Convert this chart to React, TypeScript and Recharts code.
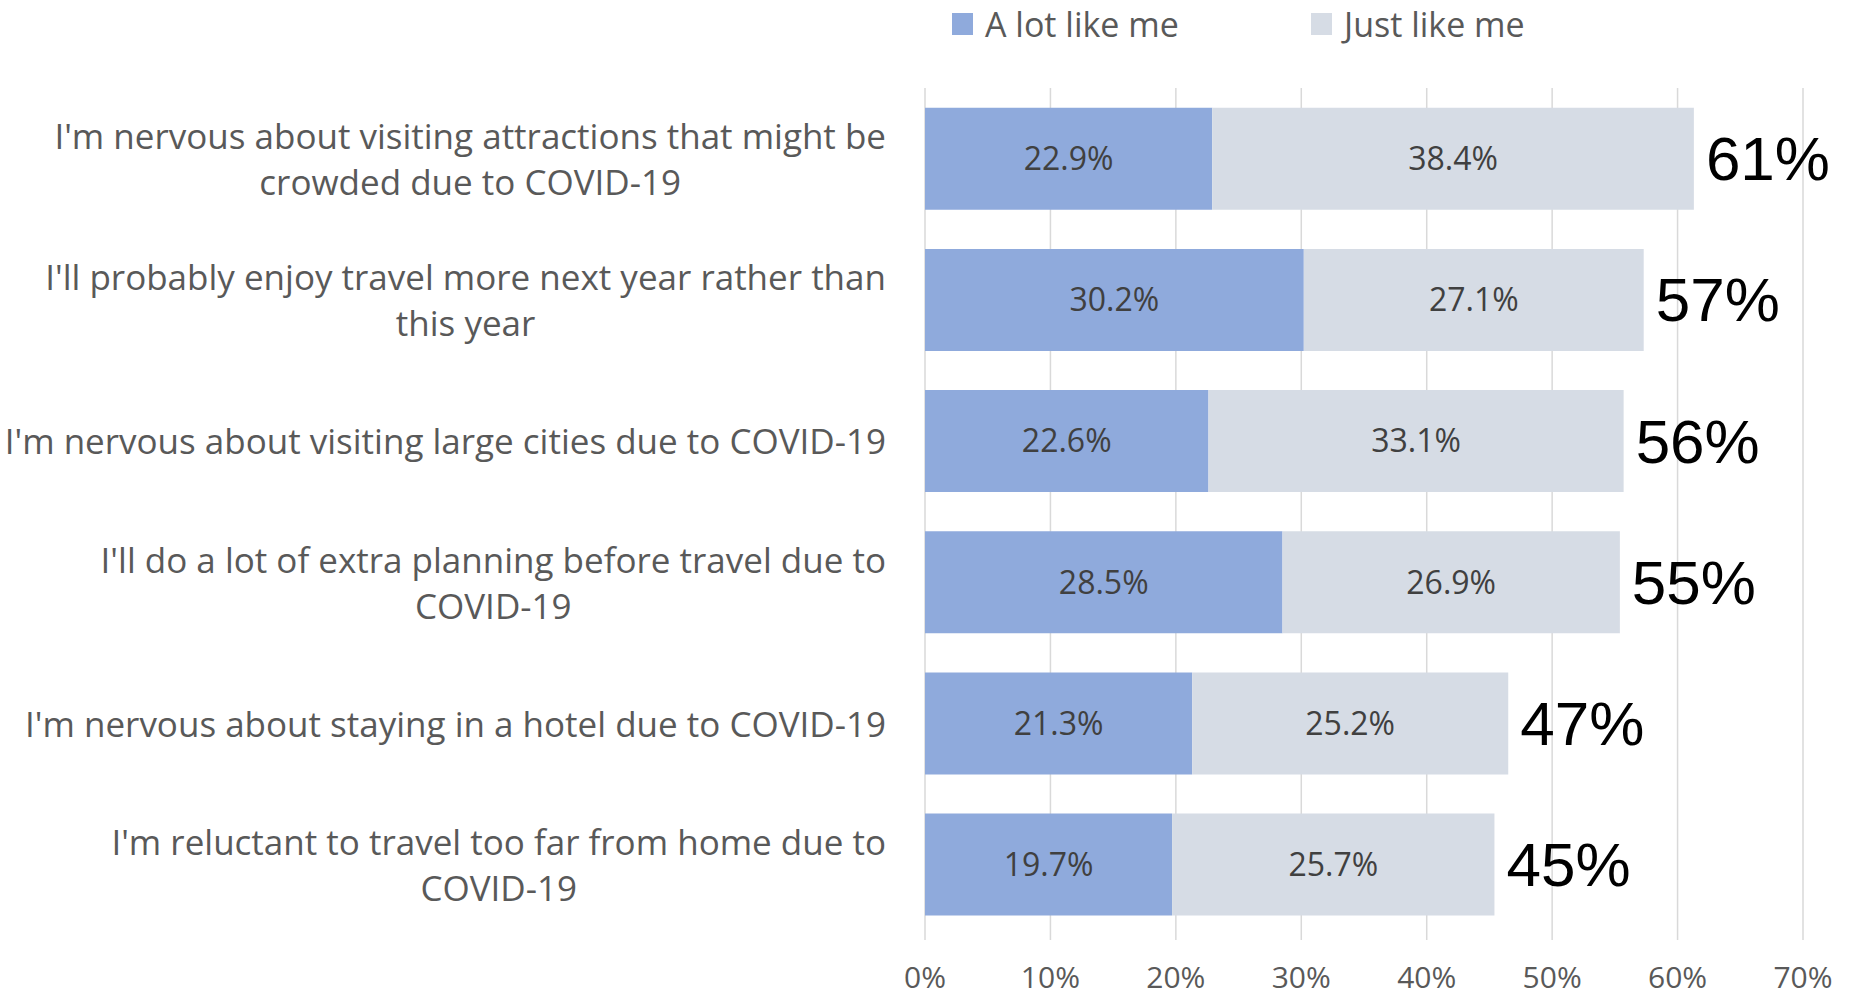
import React from 'react'
import { BarChart, Bar, XAxis, YAxis, CartesianGrid, Legend, LabelList } from 'recharts'

// categories, top to bottom
const statements = [
	"I'm nervous about visiting attractions that might be\ncrowded due to COVID-19",
	"I'll probably enjoy travel more next year rather than\nthis year",
	"I'm nervous about visiting large cities due to COVID-19",
	"I'll do a lot of extra planning before travel due to\nCOVID-19",
	"I'm nervous about staying in a hotel due to COVID-19",
	"I'm reluctant to travel too far from home due to\nCOVID-19",
]
const aLotLikeMe = [22.9, 30.2, 22.6, 28.5, 21.3, 19.7]
const justLikeMe = [38.4, 27.1, 33.1, 26.9, 25.2, 25.7]
const totalLabels = ['61%', '57%', '56%', '55%', '47%', '45%']
const xTicks = [0, 10, 20, 30, 40, 50, 60, 70]

const chartData = statements.map((s, i) => ({
	statement: s,
	aLot: aLotLikeMe[i],
	just: justLikeMe[i],
	total: totalLabels[i],
}))

const FONT = "'Open Sans', sans-serif"
const GREY_TEXT = '#595959'

let ctx: CanvasRenderingContext2D | null = null
const measure = (txt: string, size: number) => {
	if (!ctx) ctx = document.createElement('canvas').getContext('2d')
	if (!ctx) return txt.length * size * 0.5
	ctx.font = `${size}px 'Open Sans'`
	return ctx.measureText(txt).width
}

// multi-line category label, block right-aligned, lines centered on widest line
const StatementTick = (props: any) => {
	const { x, y, payload } = props
	const size = 35
	const lines: string[] = String(payload.value).split('\n')
	const widest = Math.max(...lines.map((l) => measure(l, size)))
	const cx = x - widest / 2
	const lh = 46
	const y0 = y - ((lines.length - 1) * lh) / 2
	return (
		<text fontFamily={FONT} fontSize={size} fill={GREY_TEXT} textAnchor='middle'>
			{lines.map((l, i) => (
				<tspan key={i} x={cx} y={y0 + i * lh} dominantBaseline='central'>
					{l}
				</tspan>
			))}
		</text>
	)
}

const TotalLabel = (props: any) => {
	const { x, y, width, height, index } = props
	return (
		<text
			x={x + width + 12}
			y={y + height / 2}
			fontFamily="'Liberation Sans', Arial, sans-serif"
			fontSize={62}
			fill='#000000'
			dominantBaseline='central'
		>
			{totalLabels[index]}
		</text>
	)
}

const renderLegend = (props: any) => {
	const { payload } = props
	return (
		<div style={{ display: 'flex', alignItems: 'center', height: 48 }}>
			{payload.map((entry: any, i: number) => (
				<div key={i} style={{ display: 'flex', alignItems: 'center', width: 359 }}>
					<span style={{ width: 21, height: 22, background: entry.color, marginRight: 12 }} />
					<span style={{ fontFamily: FONT, fontSize: 34, color: GREY_TEXT }}>{entry.value}</span>
				</div>
			))}
		</div>
	)
}

export default function App() {
	return (
		<div style={{ position: 'absolute', left: 0, top: 0, background: '#ffffff' }}>
			<BarChart
				width={1852}
				height={1000}
				data={chartData}
				layout='vertical'
				margin={{ top: 88, right: 49, bottom: 0, left: 0 }}
				barCategoryGap='14%'
			>
				<CartesianGrid horizontal={false} stroke='#D9D9D9' strokeWidth={1.5} />
				<XAxis
					type='number'
					domain={[0, 70]}
					ticks={xTicks}
					tickFormatter={(v) => `${v}%`}
					axisLine={false}
					tickLine={{ stroke: '#D9D9D9', strokeWidth: 1.5 }}
					tickSize={5}
					tickMargin={27}
					height={65}
					tick={{ fontFamily: FONT, fontSize: 30, fill: GREY_TEXT }}
				/>
				<YAxis
					type='category'
					dataKey='statement'
					width={925}
					axisLine={false}
					tickLine={false}
					tickSize={6}
					tickMargin={33}
					tick={<StatementTick />}
					interval={0}
				/>
				<Legend
					verticalAlign='middle'
					width={800}
					wrapperStyle={{ top: 0, left: 952 }}
					content={renderLegend}
				/>
				<Bar dataKey='aLot' name='A lot like me' stackId='s' fill='#8FAADC' isAnimationActive={false}>
					<LabelList
						dataKey='aLot'
						position='center'
						formatter={(v: any) => `${Number(v).toFixed(1)}%`}
						style={{ fontFamily: FONT, fontSize: 32, fill: '#404040' }}
					/>
				</Bar>
				<Bar dataKey='just' name='Just like me' stackId='s' fill='#D6DCE5' isAnimationActive={false}>
					<LabelList
						dataKey='just'
						position='center'
						formatter={(v: any) => `${Number(v).toFixed(1)}%`}
						style={{ fontFamily: FONT, fontSize: 32, fill: '#404040' }}
					/>
					<LabelList dataKey='total' content={<TotalLabel />} />
				</Bar>
			</BarChart>
		</div>
	)
}
